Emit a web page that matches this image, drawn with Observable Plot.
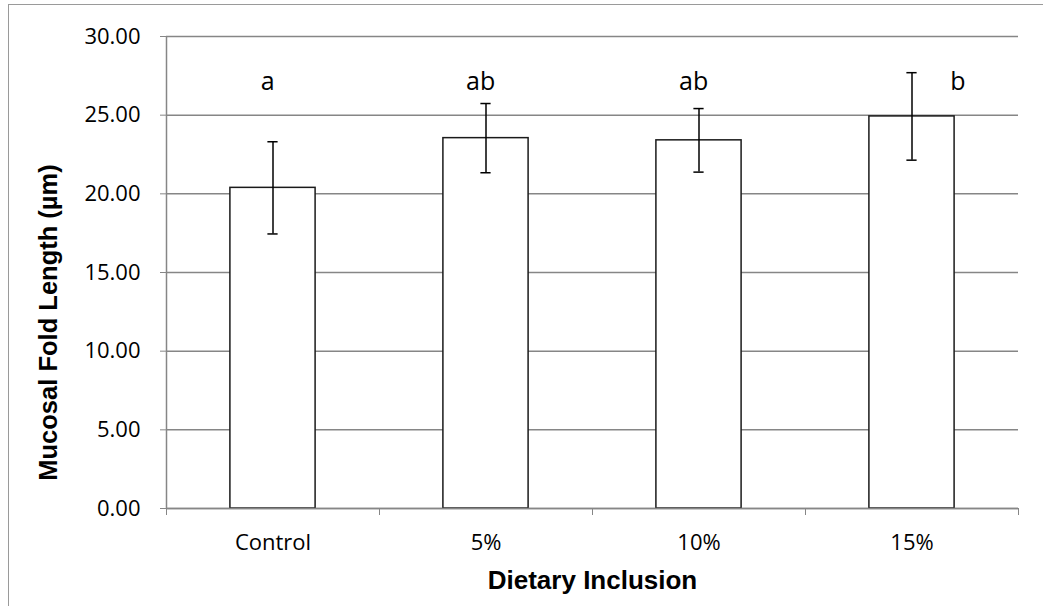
<!DOCTYPE html>
<html>
<head>
<meta charset="utf-8">
<script src="https://cdn.jsdelivr.net/npm/d3@7"></script>
<script src="https://cdn.jsdelivr.net/npm/@observablehq/plot@0.6"></script>
<style>
  html, body { margin: 0; padding: 0; background: #fff; }
  #wrap { position: relative; width: 1043px; height: 606px; overflow: hidden; }
  #border { position: absolute; left: 8px; top: 4px; right: -10px; bottom: -10px; border-left: 1.5px solid #9a9a9a; border-top: 1.5px solid #9a9a9a; pointer-events: none; }
  #chart { position: absolute; left: 0; top: 0; }
</style>
</head>
<body>
<div id="wrap"><div id="chart"></div><div id="border"></div></div>
<script>
const categories = ["Control", "5%", "10%", "15%"];
const means = [20.38, 23.54, 23.40, 24.92];
const errors = [2.93, 2.20, 2.02, 2.78];
const letters = ["a", "ab", "ab", "b"];
const yTicks = [0, 5, 10, 15, 20, 25, 30];

const data = categories.map((c, i) => ({i, c, m: means[i], e: errors[i], l: letters[i]}));
const xDomain = [-0.5, categories.length - 0.5];
const boundaries = d3.range(categories.length + 1).map(k => k - 0.5);
const half = 0.2;
const cap = 0.024;

const chart = Plot.plot({
  width: 1043,
  height: 606,
  marginLeft: 166,
  marginRight: 25,
  marginTop: 36,
  marginBottom: 98,
  style: {fontFamily: "'Open Sans', sans-serif", background: "transparent"},
  x: {domain: xDomain, axis: null, label: null},
  y: {domain: [0, 30], axis: null, label: null},
  marks: [
    Plot.gridY(yTicks, {stroke: "#868686", strokeOpacity: 1, strokeWidth: 1.5}),
    Plot.axisY(yTicks, {label: null, tickFormat: d => d.toFixed(2), tickSize: 6, tickPadding: 20, stroke: "#868686", fontSize: 22, fill: "#000"}),
    Plot.ruleX([xDomain[0]], {stroke: "#868686", strokeWidth: 1.5}),
    Plot.rectY(data, {x1: d => d.i - half, x2: d => d.i + half, y1: 0, y2: "m", fill: "#fff", stroke: "#1a1a1a", strokeWidth: 1.5}),
    Plot.ruleY([0], {stroke: "#868686", strokeWidth: 1.5}),
    Plot.axisX(boundaries, {label: null, tickSize: 7, tickFormat: () => "", stroke: "#868686"}),
    Plot.axisX(d3.range(categories.length), {label: null, tickSize: 0, tickPadding: 26, tickFormat: i => categories[i], fontSize: 22, fill: "#000"}),
    Plot.ruleX(data, {x: "i", y1: d => d.m - d.e, y2: d => d.m + d.e, stroke: "#000", strokeWidth: 1.5}),
    Plot.ruleY(data, {x1: d => d.i - cap, x2: d => d.i + cap, y: d => d.m + d.e, stroke: "#000", strokeWidth: 1.5}),
    Plot.ruleY(data, {x1: d => d.i - cap, x2: d => d.i + cap, y: d => d.m - d.e, stroke: "#000", strokeWidth: 1.5}),
    Plot.text(data, {x: d => d.i + (d.l === "b" ? 0.215 : -0.025), y: 27.1, text: "l", fontSize: 25, fill: "#000"}),
    Plot.text(["Dietary Inclusion"], {frameAnchor: "bottom", lineAnchor: "middle", dy: 72, text: d => d, fontSize: 26, fontWeight: "bold", fontFamily: "'Liberation Sans', Arial, sans-serif", fill: "#000"}),
    Plot.text(["Mucosal Fold Length (µm)"], {frameAnchor: "left", textAnchor: "middle", lineAnchor: "middle", dx: -118, dy: 50, rotate: -90, text: d => d, fontSize: 25.5, fontWeight: "bold", fontFamily: "'Liberation Sans', Arial, sans-serif", fill: "#000"})
  ]
});
document.getElementById("chart").appendChild(chart);
</script>
</body>
</html>
